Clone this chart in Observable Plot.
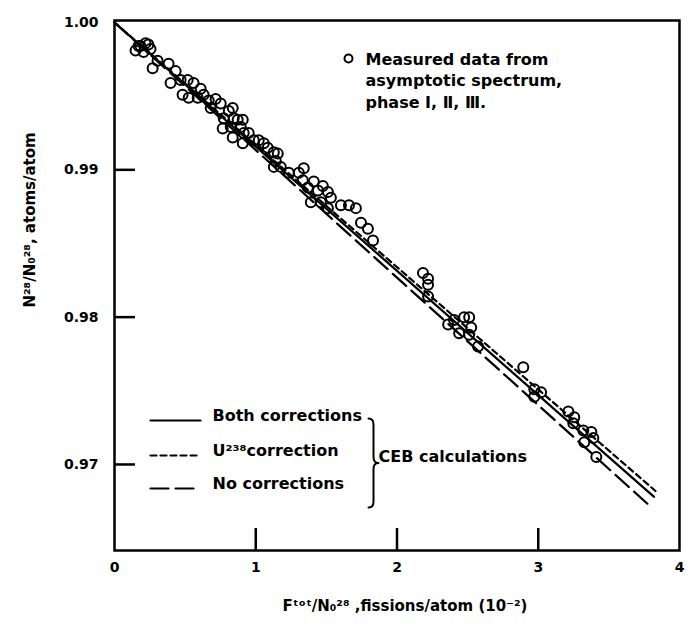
<!DOCTYPE html>
<html>
<head>
<meta charset="utf-8">
<script src="https://cdn.jsdelivr.net/npm/d3@7"></script>
<script src="https://cdn.jsdelivr.net/npm/@observablehq/plot@0.6"></script>
<style>
  html, body { margin: 0; padding: 0; background: white; }
  #chart { width: 697px; height: 632px; }
</style>
</head>
<body>
<div id="chart"></div>
<script>
// Measured data (x: fissions/atom ×10^-2, y: N28/N0_28)
const measuredX = [0.149,0.170,0.184,0.206,0.220,0.255,0.240,0.270,0.305,0.383,0.397,0.433,0.468,0.482,0.518,0.525,0.560,0.589,0.610,0.631,0.667,0.681,0.716,0.752,0.773,0.809,0.837,0.844,0.766,0.823,0.872,0.894,0.908,0.837,0.915,0.950,0.908,0.986,1.021,1.057,1.085,1.128,1.156,1.142,1.128,1.177,1.234,1.305,1.340,1.333,1.369,1.411,1.440,1.475,1.511,1.532,1.390,1.461,1.511,1.603,1.660,1.709,1.745,1.794,1.830,2.184,2.220,2.220,2.220,2.362,2.404,2.475,2.511,2.525,2.440,2.511,2.574,2.894,2.972,2.972,3.020,3.213,3.255,3.248,3.319,3.376,3.390,3.326,3.411];
const measuredY = [0.9981,0.9984,0.9984,0.9980,0.9986,0.9982,0.9985,0.9969,0.9974,0.9972,0.9959,0.9967,0.9961,0.9951,0.9961,0.9949,0.9959,0.9949,0.9955,0.9951,0.9947,0.9942,0.9948,0.9945,0.9935,0.9940,0.9942,0.9935,0.9928,0.9929,0.9934,0.9929,0.9934,0.9922,0.9925,0.9925,0.9918,0.9920,0.9920,0.9918,0.9915,0.9912,0.9911,0.9906,0.9902,0.9902,0.9898,0.9898,0.9901,0.9893,0.9888,0.9892,0.9886,0.9889,0.9885,0.9881,0.9878,0.9878,0.9874,0.9876,0.9876,0.9874,0.9864,0.9860,0.9852,0.9830,0.9826,0.9822,0.9814,0.9795,0.9798,0.9800,0.9800,0.9793,0.9789,0.9788,0.9780,0.9766,0.9751,0.9746,0.9749,0.9736,0.9732,0.9728,0.9723,0.9722,0.9718,0.9715,0.9705];

// CEB calculations (end points)
const bothX = [0, 3.82];
const bothY = [1.0, 0.9678];
const u238X = [0, 3.83];
const u238Y = [1.0, 0.9682];
const noneX = [0, 3.80];
const noneY = [1.0, 0.9671];

const xTicks = [0, 1, 2, 3, 4];
const yTicks = [0.97, 0.98, 0.99, 1.00];
const xInnerTicks = [1, 2, 3];
const yInnerTicks = [0.97, 0.98, 0.99];

const legendLabels = ["Both corrections", "U²³⁸correction", "No corrections"];
const groupLabel = "CEB calculations";
const measuredLabel = "Measured data from\nasymptotic spectrum,\nphase Ⅰ, Ⅱ, Ⅲ.";
const xTitle = "Fᵗᵒᵗ/N₀²⁸ ,fissions/atom (10⁻²)";
const yTitle = "N²⁸/N₀²⁸, atoms/atom";

const measured = measuredX.map((x, i) => ({x, y: measuredY[i]}));
const toRows = (xs, ys) => xs.map((x, i) => ({x, y: ys[i]}));

const lineShape = {draw(ctx, l) { ctx.moveTo(0, 0); ctx.lineTo(0, -l); }};
const braceShape = {draw(ctx, l) {
  const w = 5, h = l / 2;
  ctx.moveTo(0, -l);
  ctx.quadraticCurveTo(w, -l, w, -l + 6);
  ctx.lineTo(w, -h - 6);
  ctx.quadraticCurveTo(w, -h, w + 5, -h);
  ctx.quadraticCurveTo(w, -h, w, -h + 6);
  ctx.lineTo(w, -6);
  ctx.quadraticCurveTo(w, 0, 0, 0);
}};

const font = {fontFamily: "DejaVu Sans", fontWeight: "bold"};
const dashes = [null, "6,4", "18,7"];

const legendMarks = [];
legendLabels.forEach((lab, i) => {
  const dy = [-130, -95, -62][i];
  legendMarks.push(Plot.vector([0], {frameAnchor: "bottom-left", dx: 36, dy, rotate: 90, length: 50, anchor: "start", shape: lineShape, strokeWidth: 2.2, stroke: "black", strokeDasharray: dashes[i]}));
  legendMarks.push(Plot.text([lab], {frameAnchor: "bottom-left", dx: 98, dy, textAnchor: "start", fontSize: 16, ...font, fill: "black"}));
});
legendMarks.push(Plot.vector([0], {frameAnchor: "bottom-left", dx: 254, dy: -43, rotate: 0, length: 89, anchor: "start", shape: braceShape, strokeWidth: 2, stroke: "black"}));
legendMarks.push(Plot.text([groupLabel], {frameAnchor: "bottom-left", dx: 264, dy: -89, textAnchor: "start", fontSize: 16, ...font, fill: "black"}));
legendMarks.push(Plot.dot([0], {frameAnchor: "top-left", dx: 234, dy: 38, r: 4, stroke: "black", strokeWidth: 2, fill: "none"}));
legendMarks.push(Plot.text([measuredLabel], {frameAnchor: "top-left", dx: 251, dy: 59, textAnchor: "start", lineAnchor: "middle", lineHeight: 1.35, fontSize: 16, ...font, fill: "black"}));

const chart = Plot.plot({
  width: 697,
  height: 632,
  marginLeft: 114,
  marginRight: 18,
  marginTop: 20,
  marginBottom: 82,
  style: {background: "white", color: "black", fontFamily: "DejaVu Sans", fontWeight: "bold"},
  x: {domain: [0, 4]},
  y: {domain: [0.96416, 1.000136]},
  marks: [
    Plot.frame({stroke: "black", strokeWidth: 2.5}),
    Plot.axisX(xTicks, {tickSize: 0, tickPadding: 12, fontSize: 14, label: null, tickFormat: d => String(d)}),
    Plot.axisY(yTicks, {tickSize: 0, tickPadding: 16, fontSize: 14, label: null, tickFormat: d => d.toFixed(2)}),
    Plot.tickX(xInnerTicks, {x: d => d, insetTop: 508, strokeWidth: 2.5, stroke: "black"}),
    Plot.tickY(yInnerTicks, {y: d => d, insetRight: 544, strokeWidth: 2.5, stroke: "black"}),
    Plot.line(toRows(bothX, bothY), {x: "x", y: "y", stroke: "black", strokeWidth: 2.2}),
    Plot.line(toRows(u238X, u238Y), {x: "x", y: "y", stroke: "black", strokeWidth: 2.2, strokeDasharray: "6,4"}),
    Plot.line(toRows(noneX, noneY), {x: "x", y: "y", stroke: "black", strokeWidth: 2.2, strokeDasharray: "18,7"}),
    Plot.dot(measured, {x: "x", y: "y", r: 5, stroke: "black", strokeWidth: 2, fill: "none"}),
    ...legendMarks,
    Plot.text([xTitle], {frameAnchor: "bottom", dx: 8, dy: 60, fontSize: 15, ...font, fill: "black"}),
    Plot.text([yTitle], {frameAnchor: "left", dx: -84, dy: 22, rotate: -90, fontSize: 15, ...font, fill: "black"})
  ]
});
document.getElementById("chart").appendChild(chart);
</script>
</body>
</html>
